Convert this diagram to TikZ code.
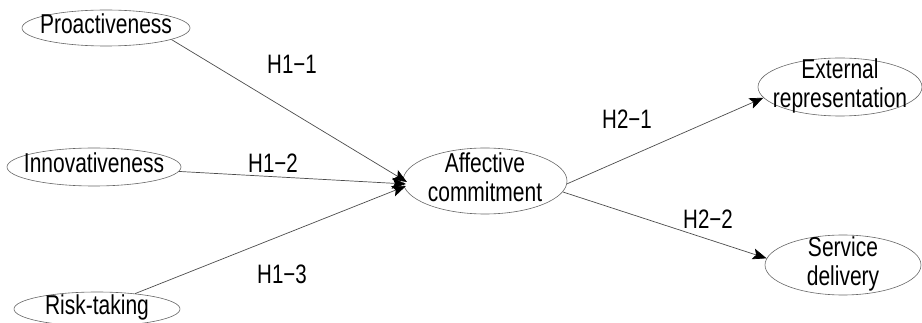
\documentclass[tikz,border=0pt]{standalone}
\usepackage{fontspec}
\usepackage{graphicx}
\setmainfont{Liberation Sans}
\usetikzlibrary{shapes.geometric,arrows.meta}
\newcommand\talltext[1]{\scalebox{1}[1.3]{\begin{tabular}{@{}c@{}}#1\end{tabular}}}
\begin{document}
\begin{tikzpicture}[x=1pt,y=-1pt,
  construct/.style={ellipse,draw=black!60,line width=0.6pt,inner xsep=-30pt,inner ysep=-16pt,font=\fontsize{21}{22}\selectfont},
  arr/.style={draw=black!70,line width=0.7pt,-{Stealth[length=14pt,width=11pt,inset=3pt,color=black]}},
  hlab/.style={inner sep=0pt,font=\fontsize{20.5}{22}\selectfont}]
\useasboundingbox (0,0) rectangle (922,323);
\node[construct,minimum width=168pt,minimum height=36pt] (p) at (106,28) {\talltext{Proactiveness}};
\node[construct,minimum width=174pt,minimum height=38pt] (i) at (94,167) {\talltext{Innovativeness}};
\node[construct,minimum width=166pt,minimum height=34pt] (r) at (97,309) {\talltext{Risk-taking}};
\node[construct,minimum width=164pt,minimum height=66pt] (ac) at (485,181) {\talltext{Affective\\commitment}};
\node[construct,minimum width=164pt,minimum height=58pt] (er) at (840,87) {\talltext{External\\representation}};
\node[construct,minimum width=156pt,minimum height=60pt] (sd) at (843,265) {\talltext{Service\\delivery}};
\coordinate (t1) at (407,182);
\coordinate (t2) at (406,184);
\coordinate (t3) at (406,186);
\draw[arr] (p.-10) -- (t1);
\draw[arr] (i.-3) -- (t2);
\draw[arr] (r.22) -- (t3);
\draw[arr] (ac.-2) -- (er.-172);
\draw[arr] (ac.-8) -- (sd.175);
\node[hlab] (l11) at (292,68) {\talltext{H1−1}};
\node[hlab] (l12) at (273,167) {\talltext{H1−2}};
\node[hlab] (l13) at (282,278) {\talltext{H1−3}};
\node[hlab] (l21) at (627,123) {\talltext{H2−1}};
\node[hlab] (l22) at (708,223) {\talltext{H2−2}};
\end{tikzpicture}
\end{document}
